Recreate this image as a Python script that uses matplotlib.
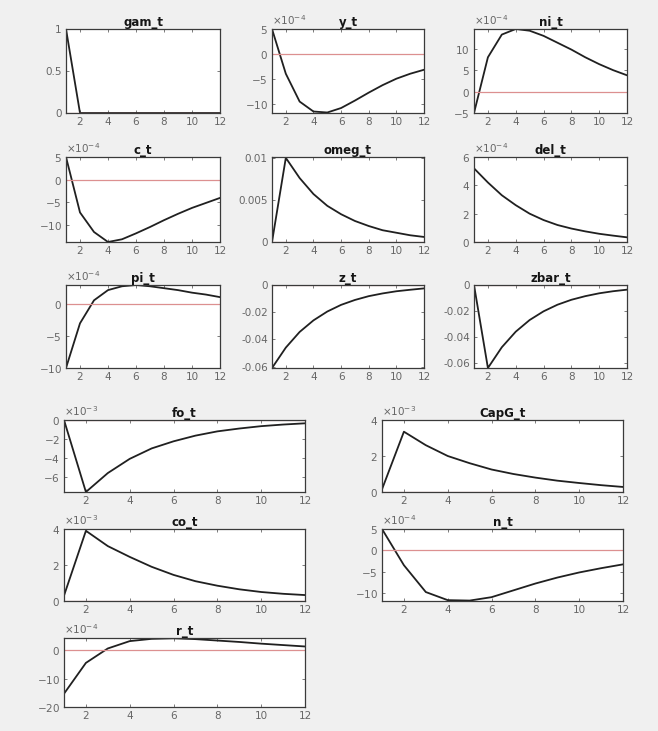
import numpy as np
import matplotlib
matplotlib.use('Agg')
import matplotlib.pyplot as plt
from matplotlib.ticker import ScalarFormatter

plt.rcParams['font.family'] = ['DejaVu Sans']
plt.rcParams['axes.unicode_minus'] = False

W, H = 658, 731
t = np.arange(1, 13)

# impulse responses, in the units shown on each panel (times 10^exp)
gam_t = [1, 0, 0, 0, 0, 0, 0, 0, 0, 0, 0, 0]
y_t = [5.0, -4.0, -9.6, -11.6, -11.8, -10.9, -9.4, -7.8, -6.3, -5.0, -4.0, -3.2]
ni_t = [-5.0, 8.0, 13.3, 14.6, 14.2, 13.0, 11.4, 9.8, 8.0, 6.4, 5.0, 3.8]
c_t = [5.0, -7.2, -11.5, -13.7, -13.1, -11.8, -10.4, -8.9, -7.5, -6.2, -5.1, -4.0]
omeg_t = [0, 0.0100, 0.0076, 0.0057, 0.0043, 0.0033, 0.0025, 0.0019, 0.0014, 0.0011, 0.0008, 0.0006]
del_t = [5.2, 4.2, 3.3, 2.6, 2.0, 1.55, 1.2, 0.95, 0.75, 0.58, 0.45, 0.33]
pi_t = [-10.0, -3.0, 0.6, 2.2, 2.8, 3.0, 2.8, 2.5, 2.2, 1.8, 1.5, 1.1]
z_t = [-0.061, -0.046, -0.0345, -0.026, -0.0195, -0.0146, -0.011, -0.0082, -0.0062, -0.0046, -0.0035, -0.0025]
zbar_t = [0, -0.064, -0.048, -0.036, -0.027, -0.0203, -0.0152, -0.0114, -0.0086, -0.0064, -0.0048, -0.0036]
fo_t = [0, -7.6, -5.6, -4.1, -3.0, -2.25, -1.65, -1.2, -0.9, -0.65, -0.48, -0.35]
CapG_t = [0.15, 3.35, 2.6, 2.0, 1.6, 1.25, 1.0, 0.8, 0.63, 0.5, 0.38, 0.28]
co_t = [0.3, 3.9, 3.05, 2.45, 1.9, 1.45, 1.1, 0.85, 0.65, 0.5, 0.4, 0.33]
n_t = [5.0, -3.5, -9.8, -11.7, -11.8, -11.0, -9.4, -7.8, -6.4, -5.2, -4.2, -3.3]
r_t = [-15.3, -4.4, 0.7, 3.3, 4.1, 4.3, 4.0, 3.5, 3.0, 2.4, 1.9, 1.4]

# name, data, exponent, ylim, yticks
panels = [
    ('gam_t', gam_t, 0, (0, 1), [0, 0.5, 1]),
    ('y_t', y_t, -4, (-11.9, 5.0), [-10, -5, 0, 5]),
    ('ni_t', ni_t, -4, (-5, 14.6), [-5, 0, 5, 10]),
    ('c_t', c_t, -4, (-13.7, 5.0), [-10, -5, 0, 5]),
    ('omeg_t', omeg_t, 0, (0, 0.0101), [0, 0.005, 0.01]),
    ('del_t', del_t, -4, (0, 6), [0, 2, 4, 6]),
    ('pi_t', pi_t, -4, (-10, 3.0), [-10, -5, 0]),
    ('z_t', z_t, 0, (-0.061, 0), [-0.06, -0.04, -0.02, 0]),
    ('zbar_t', zbar_t, 0, (-0.064, 0), [-0.06, -0.04, -0.02, 0]),
    ('fo_t', fo_t, -3, (-7.6, 0), [-6, -4, -2, 0]),
    ('CapG_t', CapG_t, -3, (0, 4), [0, 2, 4]),
    ('co_t', co_t, -3, (0, 4), [0, 2, 4]),
    ('n_t', n_t, -4, (-11.9, 5.0), [-10, -5, 0, 5]),
    ('r_t', r_t, -4, (-20, 4.4), [-20, -10, 0]),
]

# axes boxes in pixels: left, right, top, bottom
top_cols = [(66, 220), (272, 424), (474, 627)]
top_rows = [(29, 113), (157, 242), (285, 368)]
bot_cols = [(64, 305), (382, 623)]
bot_rows = [(420, 492), (529, 601), (638, 707)]
boxes = [(c[0], c[1], r[0], r[1]) for r in top_rows for c in top_cols]
boxes += [(c[0], c[1], r[0], r[1]) for r in bot_rows for c in bot_cols][:5]

fig = plt.figure(figsize=(W / 100, H / 100), dpi=100)
fig.patch.set_facecolor('#f0f0f0')

for (name, vals, ex, ylim, yt), (l, r, tp, b) in zip(panels, boxes):
    ax = fig.add_axes([l / W, 1 - b / H, (r - l) / W, (b - tp) / H])
    sc = 10.0 ** ex
    ax.plot(t, np.array(vals) * sc, '-', color='#202020', lw=1.3)
    ax.plot([1, 12], [0, 0], '-', color='#dc9090', lw=0.9)
    ax.set_xlim(1, 12)
    ax.set_ylim(ylim[0] * sc, ylim[1] * sc)
    ax.set_xticks([2, 4, 6, 8, 10, 12])
    ax.set_yticks(np.array(yt) * sc)
    if ex != 0:
        fmt = ScalarFormatter(useMathText=True)
        fmt.set_powerlimits((ex, ex))
        ax.yaxis.set_major_formatter(fmt)
        ax.yaxis.get_offset_text().set_fontsize(7.5)
        ax.yaxis.get_offset_text().set_color('#6a6a6a')
    else:
        ax.set_yticklabels([('%g' % v) for v in yt])
    ax.tick_params(direction='in', length=2.5, width=0.6, labelsize=7.5,
                   labelcolor='#666666', color='#666666', pad=3,
                   top=True, right=True)
    for s in ax.spines.values():
        s.set_color('#3a3a3a')
        s.set_linewidth(0.9)
    ax.set_title(name, fontsize=8.5, fontweight='bold', pad=2, color='#151515')

fig.savefig('out.png', dpi=100, facecolor=fig.get_facecolor())
